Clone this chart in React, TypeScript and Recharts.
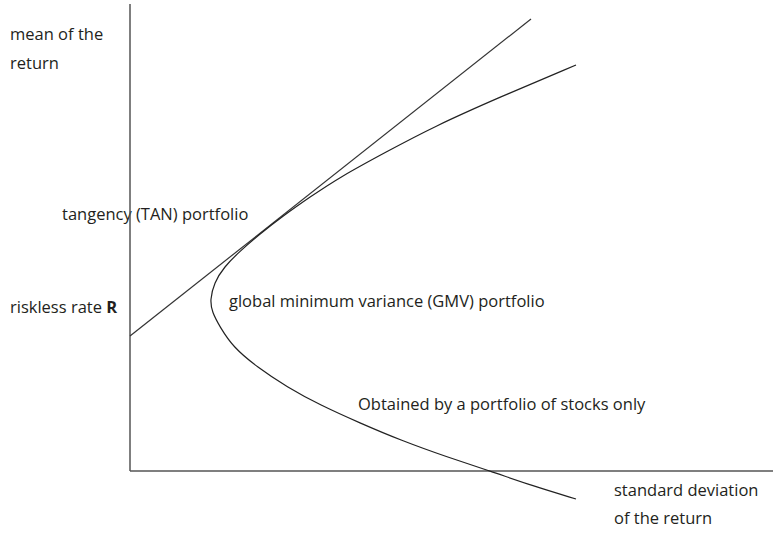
import { LineChart, Line, XAxis, YAxis, ReferenceLine, Customized } from 'recharts';

// frontier obtained with stocks only (std dev, mean)
const frontier = [
  { sd: 4.46, mean: 4.06 },
  { sd: 3.7, mean: 3.74 },
  { sd: 3.03, mean: 3.44 },
  { sd: 2.56, mean: 3.19 },
  { sd: 2.1, mean: 2.94 },
  { sd: 1.8, mean: 2.74 },
  { sd: 1.53, mean: 2.55 },
  { sd: 1.3, mean: 2.37 },
  { sd: 1.1, mean: 2.2 },
  { sd: 0.94, mean: 2.04 },
  { sd: 0.84, mean: 1.88 },
  { sd: 0.8, mean: 1.71 },
  { sd: 0.82, mean: 1.59 },
  { sd: 0.9, mean: 1.44 },
  { sd: 1.03, mean: 1.24 },
  { sd: 1.27, mean: 1.04 },
  { sd: 1.57, mean: 0.84 },
  { sd: 1.9, mean: 0.66 },
  { sd: 2.3, mean: 0.48 },
  { sd: 2.7, mean: 0.31 },
  { sd: 3.17, mean: 0.14 },
  { sd: 3.6, mean: 0.0 },
  { sd: 4.03, mean: -0.15 },
  { sd: 4.46, mean: -0.28 },
];

// riskless rate through the tangency portfolio
const cml = [
  { sd: 0, mean: 1.35 },
  { sd: 4.01, mean: 4.52 },
];

const xDomain = [-1.3, 6.43];
const yDomain = [-0.63, 4.71];

const txt = { fontFamily: '"Open Sans", sans-serif', fontSize: 16.5, fill: '#231f20' };

const Labels = () => (
  <g>
    <text x={10} y={40} {...txt}>mean of the</text>
    <text x={10} y={69} {...txt}>return</text>
    <text x={62} y={220} {...txt}>tangency (TAN) portfolio</text>
    <text x={10} y={313} {...txt}>
      riskless rate <tspan fontWeight="bold">R</tspan>
    </text>
    <text x={229} y={307} {...txt}>global minimum variance (GMV) portfolio</text>
    <text x={358} y={410} {...txt}>Obtained by a portfolio of stocks only</text>
    <text x={614} y={496} {...txt}>standard deviation</text>
    <text x={614} y={524} {...txt}>of the return</text>
  </g>
);

export default function App() {
  return (
    <div style={{ position: 'absolute', left: 0, top: 0, background: '#fff' }}>
      <LineChart width={773} height={534} margin={{ top: 0, right: 0, bottom: 0, left: 0 }}>
        <XAxis type="number" dataKey="sd" domain={xDomain} hide allowDataOverflow />
        <YAxis type="number" dataKey="mean" domain={yDomain} hide allowDataOverflow />
        <ReferenceLine segment={[{ x: 0, y: 0 }, { x: 0, y: 4.67 }]} stroke="#555" strokeWidth={1.5} />
        <ReferenceLine segment={[{ x: 0, y: 0 }, { x: 6.43, y: 0 }]} stroke="#555" strokeWidth={1.5} />
        <Line data={cml} dataKey="mean" type="linear" stroke="#333" strokeWidth={1.2}
          dot={false} activeDot={false} isAnimationActive={false} />
        <Line data={frontier} dataKey="mean" type="basis" stroke="#222" strokeWidth={1.2}
          dot={false} activeDot={false} isAnimationActive={false} />
        <Customized component={Labels} />
      </LineChart>
    </div>
  );
}
